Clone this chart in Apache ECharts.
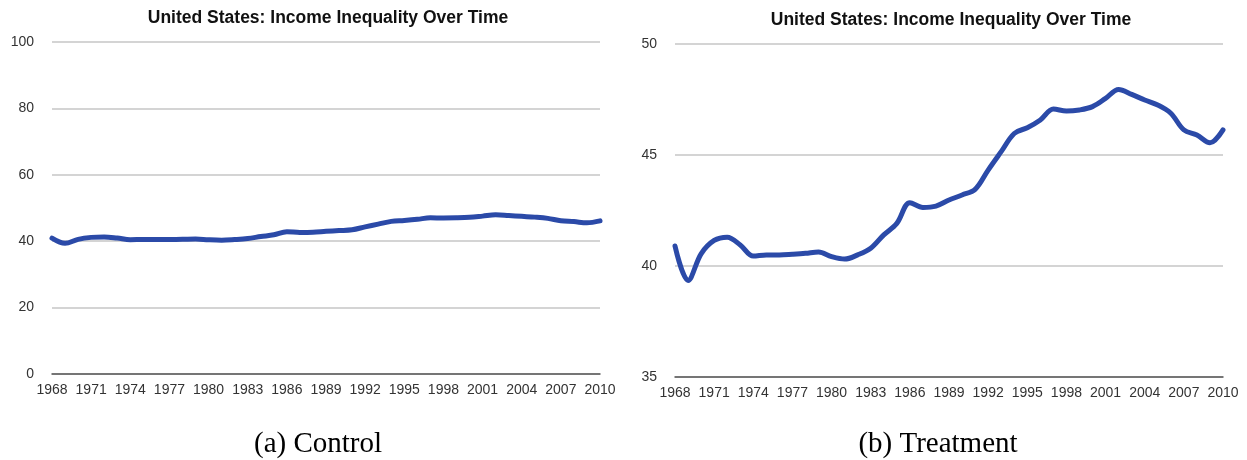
<!DOCTYPE html>
<html>
<head>
<meta charset="utf-8">
<script src="https://cdn.jsdelivr.net/npm/echarts@6/dist/echarts.min.js"></script>
<style>
html,body{margin:0;padding:0;background:#fff;}
#c{width:1247px;height:460px;}
</style>
</head>
<body>
<div id="c"></div>
<script>
const chartTitle = "United States: Income Inequality Over Time";
const years = ["1968","1969","1970","1971","1972","1973","1974","1975","1976","1977","1978","1979","1980","1981","1982","1983","1984","1985","1986","1987","1988","1989","1990","1991","1992","1993","1994","1995","1996","1997","1998","1999","2000","2001","2002","2003","2004","2005","2006","2007","2008","2009","2010"];
const inequality = [40.9,39.35,40.55,41.15,41.3,40.95,40.45,40.5,40.5,40.53,40.57,40.63,40.42,40.31,40.5,40.8,41.4,41.92,42.85,42.64,42.7,42.97,43.2,43.45,44.32,45.15,45.97,46.23,46.58,47.07,46.98,47.03,47.18,47.55,47.95,47.73,47.48,47.25,46.88,46.13,45.9,45.55,46.13];
const captions = ["(a) Control", "(b) Treatment"];
const controlAxis = {min: 0, max: 100, interval: 20};
const treatmentAxis = {min: 35, max: 50, interval: 5};

const chart = echarts.init(document.getElementById('c'), null, {renderer: 'canvas'});
const lineColor = '#2B4AA8';
const labelFont = {fontFamily: 'Liberation Sans, Arial, sans-serif', fontSize: 14, color: '#333'};
const titleFont = {fontFamily: 'Liberation Sans, Arial, sans-serif', fontWeight: 'bold', fontSize: 17.5, color: '#111'};
const captionFont = {fontFamily: 'Liberation Serif, Times New Roman, serif', fontWeight: 'normal', fontSize: 29, color: '#000'};

function xAxis(gi) {
  return {
    type: 'category', gridIndex: gi, data: years, boundaryGap: false,
    axisLine: {show: true, lineStyle: {color: '#555', width: 1.5}},
    axisTick: {show: false},
    axisLabel: Object.assign({interval: 2, margin: 9, showMinLabel: true, showMaxLabel: true}, labelFont),
    splitLine: {show: false}
  };
}
function yAxis(gi, ax) {
  return {
    type: 'value', gridIndex: gi, min: ax.min, max: ax.max, interval: ax.interval,
    axisLine: {show: false}, axisTick: {show: false},
    axisLabel: Object.assign({margin: 18}, labelFont),
    splitLine: {show: true, lineStyle: {color: '#c6c6c6', width: 1.5}}
  };
}
function series(gi) {
  return {
    type: 'line', xAxisIndex: gi, yAxisIndex: gi, data: inequality,
    smooth: 0.35, showSymbol: false, symbol: 'none',
    lineStyle: {color: lineColor, width: 5, cap: 'round', join: 'round'},
    animation: false
  };
}

chart.setOption({
  backgroundColor: '#fff',
  animation: false,
  title: [
    {text: chartTitle, left: 323, top: 4, textAlign: 'center', textStyle: titleFont},
    {text: chartTitle, left: 946, top: 6, textAlign: 'center', textStyle: titleFont},
    {text: captions[0], left: 313, top: 425, textAlign: 'center', textStyle: captionFont},
    {text: captions[1], left: 933, top: 425, textAlign: 'center', textStyle: captionFont}
  ],
  grid: [
    {left: 52, right: 647, top: 42, bottom: 86},
    {left: 675, right: 24, top: 44, bottom: 83}
  ],
  xAxis: [xAxis(0), xAxis(1)],
  yAxis: [yAxis(0, controlAxis), yAxis(1, treatmentAxis)],
  series: [series(0), series(1)]
});
</script>
</body>
</html>
